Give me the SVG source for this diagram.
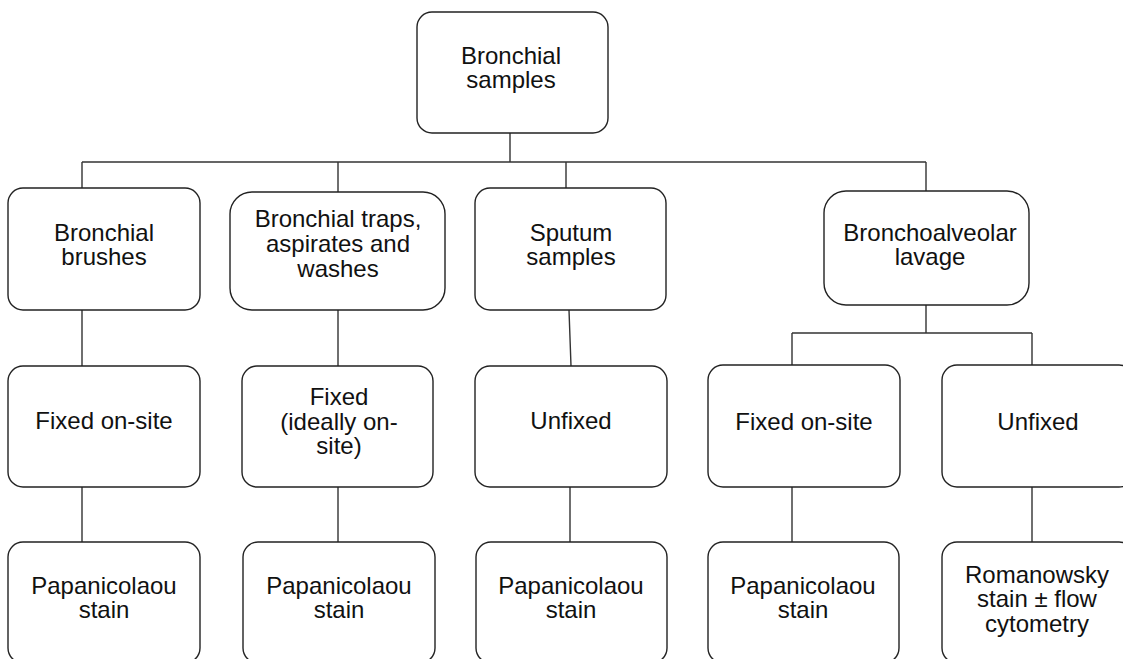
<svg xmlns="http://www.w3.org/2000/svg" width="1123" height="659" viewBox="0 0 1123 659">
<style>
.box{fill:#fff;stroke:#222;stroke-width:1.4}
.t{font-family:"Liberation Sans",Arial,Helvetica,sans-serif;font-size:24px;fill:#111;text-anchor:middle}
.c{stroke:#333;stroke-width:1.4;fill:none}
</style>
<rect width="1123" height="659" fill="#fff"/>
<g id="connectors">
<path class="c" d="M510,133V162M82,162H926M82,162V188M338,162V192M566,162V188M926,162V191"/>
<path class="c" d="M82,310V366M338,310V366M569,310L571,366"/>
<path class="c" d="M82,487V542M338,487V542M570,487V542"/>
<path class="c" d="M926,305V333M792,333H1032M792,333V365M1032,333V365M792,487V542M1032,487V542"/>
</g>
<g id="n-root"><rect class="box" x="417" y="12" width="191" height="121" rx="15"/><text class="t" x="511" y="64">Bronchial</text><text class="t" x="511" y="88">samples</text></g>
<g id="n-brushes"><rect class="box" x="8" y="188" width="192" height="122" rx="15"/><text class="t" x="104" y="241">Bronchial</text><text class="t" x="104" y="265">brushes</text></g>
<g id="n-traps"><rect class="box" x="230" y="192" width="215" height="118" rx="22"/><text class="t" x="338" y="227">Bronchial traps,</text><text class="t" x="338" y="252">aspirates and</text><text class="t" x="338" y="277">washes</text></g>
<g id="n-sputum"><rect class="box" x="475" y="188" width="191" height="122" rx="15"/><text class="t" x="571" y="241">Sputum</text><text class="t" x="571" y="265">samples</text></g>
<g id="n-bal"><rect class="box" x="824" y="191" width="205" height="114" rx="22"/><text class="t" x="930" y="241">Bronchoalveolar</text><text class="t" x="930" y="265">lavage</text></g>
<g id="n-fixed1"><rect class="box" x="8" y="366" width="192" height="121" rx="15"/><text class="t" x="104" y="429">Fixed on-site</text></g>
<g id="n-fixed2"><rect class="box" x="242" y="366" width="191" height="121" rx="15"/><text class="t" x="339" y="405">Fixed</text><text class="t" x="339" y="430">(ideally on-</text><text class="t" x="339" y="454">site)</text></g>
<g id="n-unfixed1"><rect class="box" x="475" y="366" width="192" height="121" rx="15"/><text class="t" x="571" y="429">Unfixed</text></g>
<g id="n-fixed3"><rect class="box" x="708" y="365" width="192" height="122" rx="15"/><text class="t" x="804" y="430">Fixed on-site</text></g>
<g id="n-unfixed2"><rect class="box" x="942" y="365" width="192" height="122" rx="15"/><text class="t" x="1038" y="430">Unfixed</text></g>
<g id="n-pap1"><rect class="box" x="8" y="542" width="192" height="121" rx="15"/><text class="t" x="104" y="594">Papanicolaou</text><text class="t" x="104" y="618">stain</text></g>
<g id="n-pap2"><rect class="box" x="243" y="542" width="192" height="121" rx="15"/><text class="t" x="339" y="594">Papanicolaou</text><text class="t" x="339" y="618">stain</text></g>
<g id="n-pap3"><rect class="box" x="476" y="542" width="191" height="121" rx="15"/><text class="t" x="571" y="594">Papanicolaou</text><text class="t" x="571" y="618">stain</text></g>
<g id="n-pap4"><rect class="box" x="708" y="542" width="191" height="121" rx="15"/><text class="t" x="803" y="594">Papanicolaou</text><text class="t" x="803" y="618">stain</text></g>
<g id="n-rom"><rect class="box" x="942" y="542" width="192" height="121" rx="15"/><text class="t" x="1037" y="583">Romanowsky</text><text class="t" x="1037" y="607">stain ± flow</text><text class="t" x="1037" y="632">cytometry</text></g>
</svg>
